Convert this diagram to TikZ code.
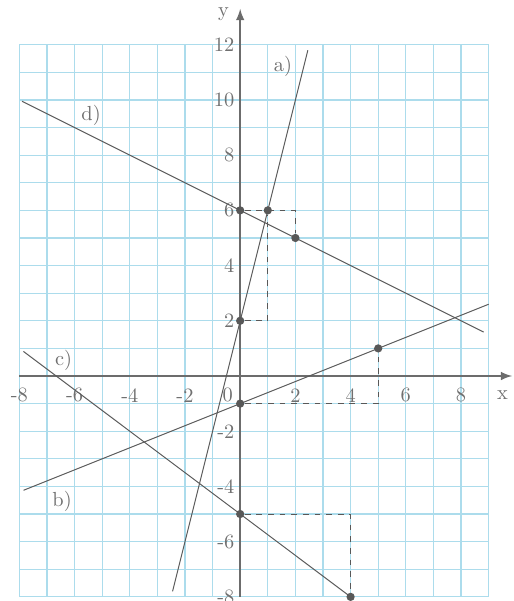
\documentclass[tikz,border=0pt]{standalone}
\usepackage{xcolor}
\usepackage{tikz}
\usetikzlibrary{calc}

\definecolor{gridblue}{RGB}{172,220,236}
\definecolor{axisgray}{RGB}{108,108,108}
\definecolor{linegray}{RGB}{88,88,88}
\definecolor{textgray}{RGB}{112,112,112}

\tikzset{
    lbl/.style={text=textgray, inner sep=0pt, font=\fontsize{10.5}{12}\selectfont},
    graph/.style={linegray, line width=0.5pt},
    guide/.style={linegray, dashed, line width=0.5pt},
    pt/.style={circle, fill=linegray, inner sep=0pt, minimum size=1.5mm}
}

\begin{document}
\begin{tikzpicture}[>=latex, x=0.5cm, y=0.5cm]
    \useasboundingbox (-8.7,-8.15) rectangle (9.89,13.62);
    % 1. Lưới ô vuông
    \draw[gridblue, line width=0.6pt, step=1] (-8,-8) grid (9,12);

    % 2. Hệ trục tọa độ
    \draw[->, axisgray, line width=1pt] (-8,0) -- (9.85,0);
    \draw[->, axisgray, line width=1pt] (0,-8) -- (0,13.3);
    \node[lbl] (xlab) at (9.5,-0.7) {x};
    \node[lbl] (ylab) at (-0.6,13.1) {y};
    \node[lbl] (orig) at (-0.45,-0.7) {0};

    % 3. Đánh dấu các mốc
    \foreach \x in {-8,-6,-4,-2,2,4,6,8} {
        \node[lbl] at (\x,-0.7) {\x};
    }
    \foreach \val in {-8,-6,-4,-2,2,4,6,8,10,12} {
        \node[lbl, anchor=east] at (-0.2,\val) {\val};
    }

    % 4. Các điểm
    \node[pt] (P06) at (0,6) {};
    \node[pt] (P16) at (1,6) {};
    \node[pt] (P25) at (2,5) {};
    \node[pt] (P02) at (0,2) {};
    \node[pt] (P0m1) at (0,-1) {};
    \node[pt] (P51) at (5,1) {};
    \node[pt] (P0m5) at (0,-5) {};
    \node[pt] (P4m8) at (4,-8) {};
    \coordinate (Q12) at (1,2);
    \coordinate (Q26) at (2,6);
    \coordinate (Q5m1) at (5,-1);
    \coordinate (Q4m5) at (4,-5);

    % 5. Đường gióng
    \draw[guide] (P02) -- (Q12) -- (P16);
    \draw[guide] (P06) -- (Q26) -- (P25);
    \draw[guide] (P0m1) -- (Q5m1) -- (P51);
    \draw[guide] (P0m5) -- (Q4m5) -- (P4m8);

    % 6. Các đường thẳng
    \coordinate (a1) at (-2.45,-7.8);
    \coordinate (a2) at (2.45,11.8);
    \coordinate (b1) at (-7.85,-4.14);
    \coordinate (b2) at (9,2.6);
    \coordinate (c1) at (-7.85,0.89);
    \coordinate (d1) at (-7.9,9.95);
    \coordinate (d2) at (8.82,1.59);
    \draw[graph] (a1) -- (a2);
    \draw[graph] (b1) -- (b2);
    \draw[graph] (c1) -- (P4m8.center);
    \draw[graph] (d1) -- (d2);

    \node[lbl] (la) at (1.55,11.2) {a)};
    \node[lbl] (lb) at (-6.45,-4.55) {b)};
    \node[lbl] (lc) at (-6.4,0.55) {c)};
    \node[lbl] (ld) at (-5.4,9.45) {d)};
\end{tikzpicture}
\end{document}
